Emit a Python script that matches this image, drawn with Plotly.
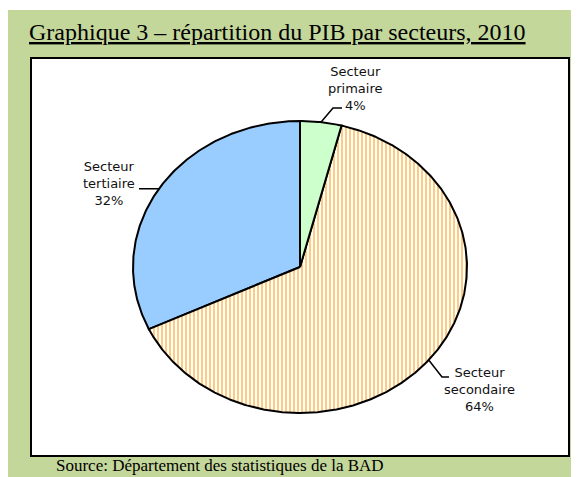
import numpy as np
import plotly.graph_objects as go

# ---- data ----
categories = ["Secteur primaire", "Secteur secondaire", "Secteur tertiaire"]
shares = [4, 64, 32]
title_text = "Graphique 3 – répartition du PIB par secteurs, 2010"
source_text = "Source: Département des statistiques de la BAD"

# ---- styling / layout constants ----
# the page body has an 8px margin, so the figure starts at (8, 8) in the window;
# axis ranges are expressed in window pixels.
OFF = 8
W, H = 579, 477
CX, CY, RX, RY = 300, 267, 167, 146
fills = ["#ccffcc", "white", "#99ccff"]
patterns = [None, dict(shape="|", fgcolor="#ff9900", bgcolor="white", size=4, solidity=0.5), None]
label_pos = [(355, 88), (479, 389), (109, 183)]
leader_elbows = [[(333, 108), (342, 108)], [(442, 377), (449, 377)], [(139, None)]]


def pt(deg):
    r = np.radians(deg)
    return CX + RX * np.sin(r), CY - RY * np.cos(r)


fig = go.Figure()

total = sum(shares)
start = 0.0
slices = []
for i, v in enumerate(shares):
    a0 = start
    a1 = start + 360.0 * v / total
    start = a1
    slices.append((a0, a1))

for i in [2, 1, 0]:
    a0, a1 = slices[i]
    angs = np.linspace(a0, a1, max(int((a1 - a0) * 2), 4))
    xs = [CX] + [pt(a)[0] for a in angs] + [CX]
    ys = [CY] + [pt(a)[1] for a in angs] + [CY]
    kw = dict(
        x=xs, y=ys, mode="lines", fill="toself", fillcolor=fills[i],
        line=dict(color="black", width=2), hoverinfo="skip", showlegend=False,
    )
    if patterns[i] is not None:
        kw["fillpattern"] = patterns[i]
    fig.add_trace(go.Scatter(**kw))

# leader lines
for i, (a0, a1) in enumerate(slices):
    mx, my = pt((a0 + a1) / 2)
    xs, ys = [mx], [my]
    for ex, ey in leader_elbows[i]:
        xs.append(ex)
        ys.append(my if ey is None else ey)
    fig.add_trace(go.Scatter(x=xs, y=ys, mode="lines", line=dict(color="black", width=1.5),
                             hoverinfo="skip", showlegend=False))

annotations = []
for i, cat in enumerate(categories):
    words = cat.split(" ")
    txt = "<br>".join(words) + f"<br>{shares[i]}%"
    annotations.append(dict(
        x=label_pos[i][0], y=label_pos[i][1], xref="x", yref="y", text=txt, showarrow=False,
        xanchor="center", yanchor="middle", align="center",
        font=dict(family="DejaVu Sans", size=13, color="#111111"),
    ))

annotations.append(dict(
    x=27, y=32, xref="x", yref="y", text=f"<u>{title_text}</u>", showarrow=False,
    xanchor="left", yanchor="middle",
    font=dict(family="Liberation Serif", size=24, color="black"),
))
annotations.append(dict(
    x=54, y=465, xref="x", yref="y", text=source_text, showarrow=False,
    xanchor="left", yanchor="middle",
    font=dict(family="Liberation Serif", size=17, color="black"),
))

shapes = [
    dict(type="rect", xref="x", yref="y", x0=8, x1=W + 2, y0=10, y1=H + 2,
         fillcolor="#c4d79b", line=dict(width=0), layer="below"),
    dict(type="rect", xref="x", yref="y", x0=31, x1=569, y0=58, y1=456,
         fillcolor="white", line=dict(color="black", width=2), layer="below"),
]

fig.update_layout(
    width=W - OFF, height=H - OFF,
    margin=dict(l=0, r=0, t=0, b=0),
    paper_bgcolor="white", plot_bgcolor="white",
    xaxis=dict(range=[OFF, W], visible=False, fixedrange=True),
    yaxis=dict(range=[H, OFF], visible=False, fixedrange=True),
    shapes=shapes, annotations=annotations, showlegend=False,
)

fig.write_html("out.html", config={"displayModeBar": False})
